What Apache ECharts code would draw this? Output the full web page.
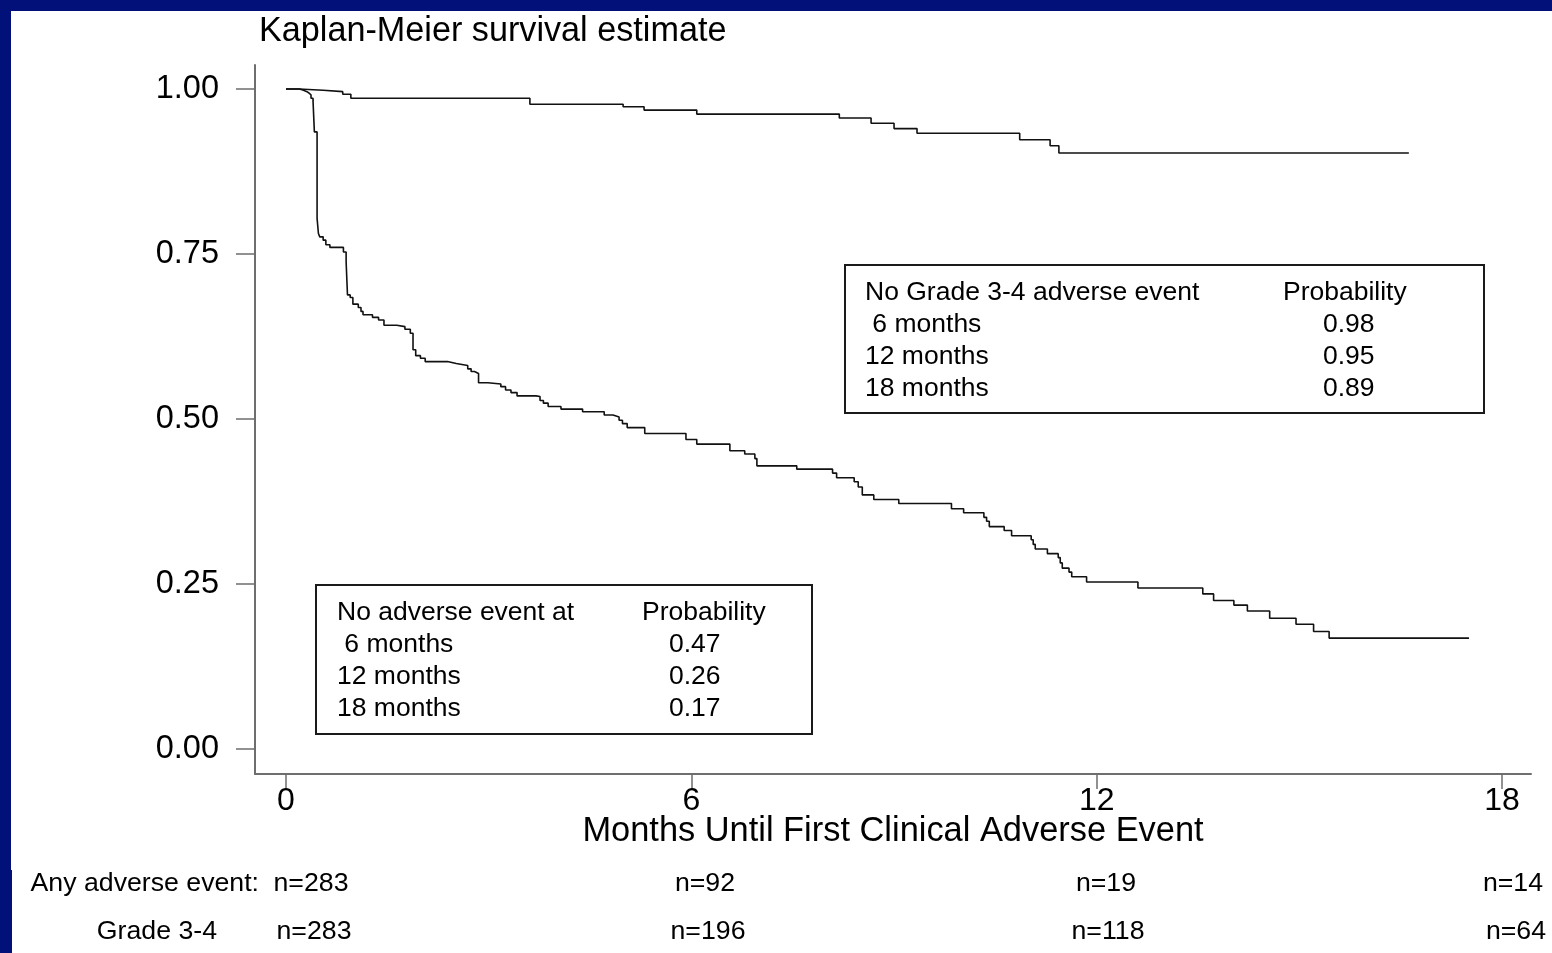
<!DOCTYPE html>
<html>
<head>
<meta charset="utf-8">
<script src="https://cdn.jsdelivr.net/npm/echarts@6/dist/echarts.min.js"></script>
<style>
html,body{margin:0;padding:0;background:#fff;}
#chart{width:1552px;height:953px;}
</style>
</head>
<body>
<div id="chart"></div>
<script>
// ---- data ----
const xTicks = [0, 6, 12, 18];
const yTicks = [0, 0.25, 0.5, 0.75, 1];

// Any adverse event (lower curve)
const anyTimes = [0, 0.20, 0.26, 0.31, 0.34, 0.37, 0.40, 0.42, 0.46, 0.48, 0.50, 0.55, 0.59, 0.65, 0.85, 0.89, 0.91, 0.95, 0.99, 1.07, 1.11, 1.14, 1.28, 1.37, 1.45, 1.64, 1.76, 1.84, 1.88, 1.92, 1.99, 2.06, 2.39, 2.52, 2.69, 2.74, 2.79, 2.85, 2.99, 3.18, 3.25, 3.33, 3.42, 3.70, 3.76, 3.81, 3.88, 4.07, 4.39, 4.71, 4.84, 4.93, 4.98, 5.05, 5.31, 5.92, 6.08, 6.57, 6.79, 6.94, 6.97, 7.56, 8.09, 8.15, 8.41, 8.47, 8.53, 8.70, 9.07, 9.85, 10.03, 10.33, 10.37, 10.41, 10.63, 10.74, 11.03, 11.06, 11.09, 11.27, 11.43, 11.46, 11.49, 11.59, 11.63, 11.85, 12.61, 13.57, 13.73, 14.03, 14.23, 14.56, 14.95, 15.21, 15.44, 17.51];
const anySurv = [1.000, 0.998, 0.996, 0.994, 0.991, 0.986, 0.982, 0.935, 0.804, 0.781, 0.776, 0.771, 0.764, 0.760, 0.753, 0.738, 0.688, 0.684, 0.674, 0.669, 0.663, 0.658, 0.654, 0.650, 0.642, 0.640, 0.636, 0.630, 0.605, 0.596, 0.592, 0.587, 0.584, 0.581, 0.576, 0.572, 0.569, 0.555, 0.553, 0.549, 0.544, 0.540, 0.535, 0.534, 0.528, 0.524, 0.519, 0.515, 0.511, 0.506, 0.503, 0.498, 0.493, 0.487, 0.478, 0.469, 0.462, 0.452, 0.447, 0.440, 0.429, 0.424, 0.418, 0.411, 0.405, 0.397, 0.385, 0.378, 0.372, 0.364, 0.358, 0.351, 0.345, 0.337, 0.331, 0.323, 0.317, 0.310, 0.303, 0.296, 0.290, 0.282, 0.274, 0.268, 0.261, 0.253, 0.244, 0.235, 0.225, 0.218, 0.209, 0.198, 0.189, 0.178, 0.168, 0.168];

// Grade 3-4 adverse event (upper curve)
const gradeTimes = [0, 0.19, 0.55, 0.84, 0.96, 3.61, 4.99, 5.30, 6.08, 8.19, 8.66, 9.00, 9.34, 10.86, 11.31, 11.44, 16.62];
const gradeSurv = [1.000, 0.998, 0.996, 0.992, 0.986, 0.977, 0.973, 0.968, 0.962, 0.956, 0.948, 0.940, 0.933, 0.923, 0.914, 0.903, 0.903];

// Inset tables
const anyTableHead = ['No adverse event at', 'Probability'];
const anyTableRows = [' 6 months', '12 months', '18 months'];
const anyTableProbs = ['0.47', '0.26', '0.17'];
const gradeTableHead = ['No Grade 3-4 adverse event', 'Probability'];
const gradeTableRows = [' 6 months', '12 months', '18 months'];
const gradeTableProbs = ['0.98', '0.95', '0.89'];

// Number at risk
const riskLabels = ['Any adverse event:', 'Grade 3-4'];
const riskAny = ['n=283', 'n=92', 'n=19', 'n=14'];
const riskGrade = ['n=283', 'n=196', 'n=118', 'n=64'];

// ---- layout ----
const FONT = "'Liberation Sans', Arial, Helvetica, sans-serif";
const NAVY = '#02117a';
const gridL = 255, gridT = 65, gridW = 1276, gridH = 709;
const x0px = 286, pxPerMonth = 67.56, y0px = 749, pxPerUnit = 660;
const xMin = (gridL - x0px) / pxPerMonth;
const xMax = (gridL + gridW - x0px) / pxPerMonth;
const yMin = (y0px - (gridT + gridH)) / pxPerUnit;
const yMax = (y0px - gridT) / pxPerUnit;

function zip(a, b) { return a.map((v, i) => [v, b[i]]); }

function table(x, y, w, h, head, rows, probs, colX, probX) {
  const els = [{
    type: 'rect', shape: {x: x, y: y, width: w, height: h},
    style: {fill: '#fff', stroke: '#1a1a1a', lineWidth: 2}
  }];
  const lines = [head[0]].concat(rows);
  const rights = [head[1]].concat(probs);
  lines.forEach((t, i) => {
    els.push({type: 'text', x: colX, y: y + 28 + i * 32,
      style: {text: t, font: '26.5px ' + FONT, fill: '#000', textVerticalAlign: 'middle', textAlign: 'left'}});
  });
  rights.forEach((t, i) => {
    els.push({type: 'text', x: i === 0 ? probX[0] : probX[1], y: y + 28 + i * 32,
      style: {text: t, font: '26.5px ' + FONT, fill: '#000', textVerticalAlign: 'middle', textAlign: 'left'}});
  });
  return els;
}

const graphics = [
  {type: 'rect', shape: {x: 0, y: 0, width: 1552, height: 11}, style: {fill: NAVY}},
  {type: 'rect', shape: {x: 0, y: 0, width: 11, height: 870}, style: {fill: NAVY}},
  {type: 'rect', shape: {x: 0, y: 870, width: 12, height: 83}, style: {fill: NAVY}}
].concat(
  table(316, 585, 496, 149, anyTableHead, anyTableRows, anyTableProbs, 337, [642, 669]),
  table(845, 265, 639, 148, gradeTableHead, gradeTableRows, gradeTableProbs, 865, [1283, 1323])
);

const riskAnyX = [311, 705, 1106, 1513];
const riskGradeX = [314, 708, 1108, 1516];
const RF = '26.7px ' + FONT;
graphics.push({type: 'text', x: 259, y: 884,
  style: {text: riskLabels[0], font: RF, fill: '#000', textAlign: 'right', textVerticalAlign: 'middle'}});
graphics.push({type: 'text', x: 217, y: 932,
  style: {text: riskLabels[1], font: RF, fill: '#000', textAlign: 'right', textVerticalAlign: 'middle'}});
riskAny.forEach((t, i) => graphics.push({type: 'text', x: riskAnyX[i], y: 884,
  style: {text: t, font: RF, fill: '#000', textAlign: 'center', textVerticalAlign: 'middle'}}));
riskGrade.forEach((t, i) => graphics.push({type: 'text', x: riskGradeX[i], y: 932,
  style: {text: t, font: RF, fill: '#000', textAlign: 'center', textVerticalAlign: 'middle'}}));

const chart = echarts.init(document.getElementById('chart'), null, {renderer: 'canvas'});
chart.setOption({
  animation: false,
  backgroundColor: '#fff',
  title: {
    text: 'Kaplan-Meier survival estimate', left: 254, top: 10,
    textStyle: {fontSize: 34.2, fontWeight: 'normal', color: '#000', fontFamily: FONT}
  },
  grid: {left: gridL, top: gridT, width: gridW, height: gridH, containLabel: false},
  xAxis: {
    type: 'value', min: xMin, max: xMax,
    name: 'Months Until First Clinical Adverse Event',
    nameLocation: 'middle', nameGap: 41, nameMoveOverlap: false,
    nameTextStyle: {fontSize: 34.4, color: '#000', fontFamily: FONT},
    axisLine: {show: true, onZero: false, lineStyle: {color: '#6e6e6e', width: 2}},
    axisTick: {show: true, customValues: xTicks, length: 15, lineStyle: {color: '#6e6e6e', width: 1.5}},
    axisLabel: {customValues: xTicks, fontSize: 32, color: '#000', fontFamily: FONT, margin: 11},
    splitLine: {show: false}
  },
  yAxis: {
    type: 'value', min: yMin, max: yMax,
    axisLine: {show: true, onZero: false, lineStyle: {color: '#6e6e6e', width: 2}},
    axisTick: {show: true, customValues: yTicks, length: 19, lineStyle: {color: '#6e6e6e', width: 1.5}},
    axisLabel: {customValues: yTicks, fontSize: 32.5, color: '#000', fontFamily: FONT, margin: 36,
      formatter: v => v.toFixed(2)},
    splitLine: {show: false}
  },
  series: [
    {type: 'line', name: 'Grade 3-4', step: 'end', showSymbol: false, data: zip(gradeTimes, gradeSurv),
      lineStyle: {color: '#111', width: 1.6}, z: 3},
    {type: 'line', name: 'Any adverse event', step: 'end', showSymbol: false, data: zip(anyTimes, anySurv),
      lineStyle: {color: '#111', width: 1.6}, z: 3}
  ],
  graphic: graphics
});
</script>
</body>
</html>
